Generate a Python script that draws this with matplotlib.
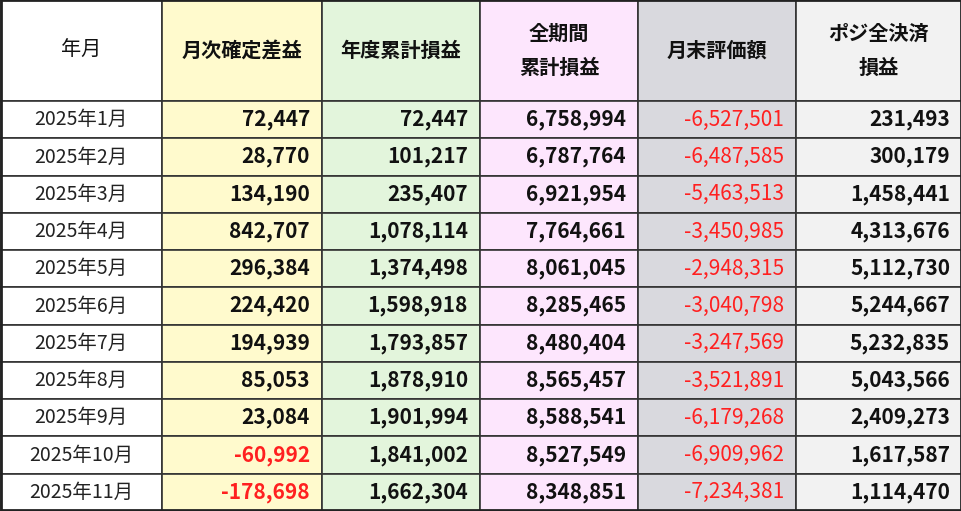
import matplotlib
matplotlib.use("Agg")
import matplotlib.pyplot as plt
from matplotlib.patches import Rectangle

plt.rcParams['font.family'] = ['Noto Sans CJK JP', 'DejaVu Sans']

headers = ["年月", "月次確定差益", "年度累計損益", "全期間\n累計損益", "月末評価額", "ポジ全決済\n損益"]
months = [f"2025年{m}月" for m in range(1, 12)]
monthly = [72447, 28770, 134190, 842707, 296384, 224420, 194939, 85053, 23084, -60992, -178698]
ytd = [72447, 101217, 235407, 1078114, 1374498, 1598918, 1793857, 1878910, 1901994, 1841002, 1662304]
total = [6758994, 6787764, 6921954, 7764661, 8061045, 8285465, 8480404, 8565457, 8588541, 8527549, 8348851]
valuation = [-6527501, -6487585, -5463513, -3450985, -2948315, -3040798, -3247569, -3521891, -6179268, -6909962, -7234381]
closeall = [231493, 300179, 1458441, 4313676, 5112730, 5244667, 5232835, 5043566, 2409273, 1617587, 1114470]

col_x = [0, 162, 322, 480, 638, 796, 962]
col_bg = ["#FFFFFF", "#FFFACD", "#E3F5DC", "#FDE6FD", "#D9D9DE", "#F2F2F2"]
W, H = 962, 511
head_h = 101
row_h = (H - head_h) / 11

fig = plt.figure(figsize=(9.62, 5.11), dpi=100)
ax = fig.add_axes([0, 0, 1, 1])
ax.set_xlim(0, W); ax.set_ylim(H, 0); ax.axis('off')

def fmt(v):
    return f"{v:,}"

cols = [monthly, ytd, total, valuation, closeall]
for c in range(6):
    x0, x1 = col_x[c], col_x[c + 1]
    ax.add_patch(Rectangle((x0, 0), x1 - x0, head_h, facecolor=col_bg[c], edgecolor="#333333", lw=1.2))
    ax.text((x0 + x1) / 2, head_h / 2, headers[c], ha='center', va='center', fontsize=14.5,
            fontweight='normal' if c == 0 else 'bold', linespacing=1.8, color="#111111")
    for r in range(11):
        y0 = head_h + r * row_h
        ax.add_patch(Rectangle((x0, y0), x1 - x0, row_h, facecolor=col_bg[c], edgecolor="#333333", lw=1.2))
        yc = y0 + row_h / 2
        if c == 0:
            ax.text((x0 + x1) / 2, yc, months[r], ha='center', va='center', fontsize=14, color="#222222")
        else:
            v = cols[c - 1][r]
            red = v < 0
            bold = c != 4
            ax.text(x1 - 12, yc, fmt(v), ha='right', va='center', fontsize=15,
                    fontweight='bold' if bold else 'normal',
                    color="#FF2020" if red else "#111111")

ax.add_patch(Rectangle((0.5, 0.5), W - 1, H - 1, facecolor='none', edgecolor="#222222", lw=2))
fig.savefig("out.png", dpi=100)
